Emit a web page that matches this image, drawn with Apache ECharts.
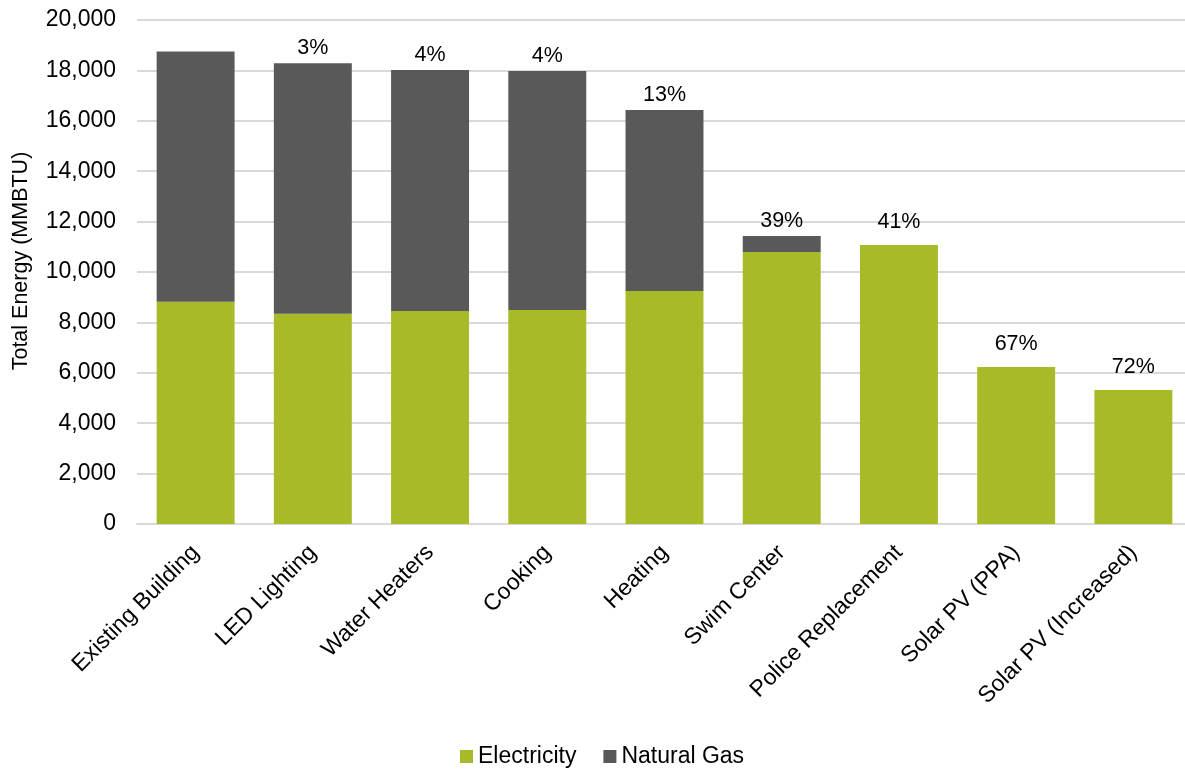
<!DOCTYPE html>
<html><head><meta charset="utf-8">
<script src="https://cdn.jsdelivr.net/npm/echarts@6/dist/echarts.min.js"></script>
<style>html,body{margin:0;padding:0;background:#fff}#c{width:1185px;height:769px}</style>
</head><body><div id="c"></div>
<script>
const categories = ['Existing Building','LED Lighting','Water Heaters','Cooking','Heating','Swim Center','Police Replacement','Solar PV (PPA)','Solar PV (Increased)'];
const electricity = [8820, 8340, 8450, 8490, 9250, 10790, 11070, 6230, 5320];
const naturalGas = [9930, 9940, 9570, 9490, 7180, 640, 0, 0, 0];
const reductionLabels = ['', '3%', '4%', '4%', '13%', '39%', '41%', '67%', '72%'];
const yTicks = [0, 2000, 4000, 6000, 8000, 10000, 12000, 14000, 16000, 18000, 20000];

const font = 'Liberation Sans, Arial, sans-serif';
const gasData = naturalGas.map(v => ({ value: v, label: { distance: v === 0 ? 12 : 4 } }));
const chart = echarts.init(document.getElementById('c'));
chart.setOption({
  animation: false,
  grid: { left: 137, width: 1055, top: 20, height: 504, containLabel: false, outerBoundsMode: 'none' },
  legend: {
    top: 740, left: 455, itemWidth: 13, itemHeight: 13, itemGap: 27,
    icon: 'rect',
    textStyle: { fontFamily: font, fontSize: 23, color: '#000' },
    data: ['Electricity', 'Natural Gas']
  },
  xAxis: {
    type: 'category', data: categories,
    axisLine: { lineStyle: { color: '#d9d9d9', width: 2 } },
    axisTick: { show: false },
    axisLabel: { rotate: 45, interval: 0, margin: 25, fontFamily: font, fontSize: 23, color: '#000' }
  },
  yAxis: {
    type: 'value', min: yTicks[0], max: yTicks[yTicks.length - 1], interval: 2000,
    name: 'Total Energy (MMBTU)', nameLocation: 'middle', nameGap: 105, nameRotate: 90,
    nameTextStyle: { fontFamily: font, fontSize: 21.5, color: '#000', padding: [0, 0, 0, 22] },
    axisLine: { show: false }, axisTick: { show: false },
    splitLine: { lineStyle: { color: '#d9d9d9', width: 2 } },
    axisLabel: {
      margin: 21, fontFamily: font, fontSize: 23, color: '#000',
      formatter: v => v.toLocaleString('en-US')
    }
  },
  series: [
    {
      name: 'Electricity', type: 'bar', stack: 'total', data: electricity,
      barWidth: '66.5%', itemStyle: { color: '#A9BA28' }
    },
    {
      name: 'Natural Gas', type: 'bar', stack: 'total', data: gasData,
      barWidth: '66.5%', itemStyle: { color: '#595959' },
      label: {
        show: true, position: 'top',
        fontFamily: font, fontSize: 21.5, color: '#000',
        formatter: p => reductionLabels[p.dataIndex]
      }
    }
  ]
});
</script></body></html>
